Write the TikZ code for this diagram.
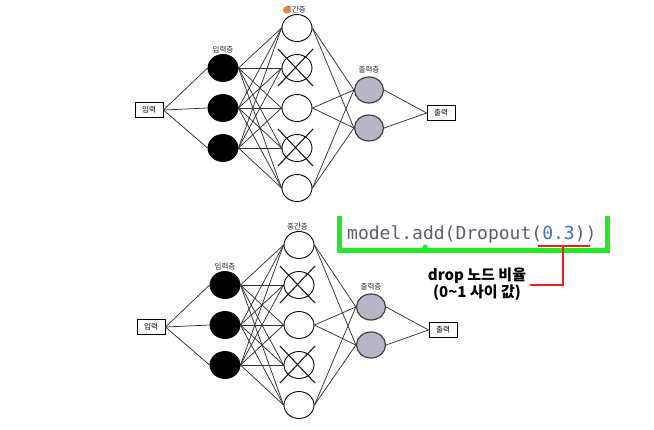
\documentclass[tikz,border=0pt]{standalone}
\usepackage{fontspec}
\setmainfont{Liberation Sans}
\newfontfamily\kr{Noto Sans CJK KR}
\newfontfamily\mono{DejaVu Sans Mono}
\usetikzlibrary{shapes.geometric}
\definecolor{outgray}{RGB}{182,182,198}
\definecolor{codegray}{RGB}{100,90,112}
\definecolor{codeblue}{RGB}{60,110,200}
\definecolor{greenline}{RGB}{35,235,35}
\definecolor{dotorange}{RGB}{240,130,40}
\definecolor{notered}{RGB}{240,30,30}
\tikzset{
  neuron/.style={ellipse, draw=black, line width=0.9pt, minimum width=30pt, minimum height=27pt, inner sep=0pt},
  innode/.style={neuron, fill=black},
  midnode/.style={neuron, fill=white},
  outnode/.style={neuron, fill=outgray, draw=black!75, line width=1.2pt, minimum width=29pt, minimum height=26pt},
  iobox/.style={draw, line width=0.9pt, minimum width=28pt, minimum height=15pt, inner sep=0pt, font=\kr\fontsize{7.5}{8}\selectfont},
  edge/.style={draw=black!80, line width=0.75pt},
  layerlabel/.style={font=\kr\fontsize{7.5}{8}\selectfont, inner sep=0pt, text=black!85},
  crossline/.style={line width=1.1pt, draw=black!90},
  redline/.style={draw=notered, line width=1.5pt},
  greenframe/.style={draw=greenline, line width=5pt},
}
\newcommand\drawnet[3]{%
\begin{scope}[shift={(#2,#3)}]
 \node[iobox] (#1ib) at (149,110) {입력};
 \foreach \i/\y in {1/68,2/108,3/148} \node[innode] (#1i\i) at (223,\y) {};
 \foreach \i/\y in {1/28,2/68,3/108,4/148,5/188} \node[midnode] (#1m\i) at (297,\y) {};
 \foreach \i/\y in {1/90,2/128} \node[outnode] (#1o\i) at (369,\y) {};
 \node[iobox] (#1ob) at (441,113) {출력};
 \node[layerlabel] (#1li) at (223,50) {입력층};
 \node[layerlabel] (#1lm) at (295.5,10) {중간층};
 \node[layerlabel] (#1lo) at (369,70) {출력층};
 \foreach \i in {1,2,3} \draw[edge] (#1ib.east) -- (#1i\i.west);
 \foreach \i in {1,2,3} \foreach \j in {1,...,5} \draw[edge] (#1i\i.east) -- (#1m\j.west);
 \foreach \j in {1,3,5} \foreach \k in {1,2} \draw[edge] (#1m\j.east) -- (#1o\k.west);
 \foreach \k in {1,2} \draw[edge] (#1o\k.east) -- (#1ob.west);
 \foreach \j in {2,4} {
   \draw[crossline] ([shift={(-19,-19)}]#1m\j.center) -- ([shift={(16,18)}]#1m\j.center);
   \draw[crossline] ([shift={(16,-19)}]#1m\j.center) -- ([shift={(-19,18)}]#1m\j.center);
 }
\end{scope}}
\begin{document}
\begin{tikzpicture}[x=1pt,y=-1pt]
\useasboundingbox (0,0) rectangle (654,429);
\fill[white] (0,0) rectangle (654,429);
\drawnet{t}{0}{0}
\node[circle, fill=dotorange, minimum size=7pt, inner sep=0pt] (dot) at (286.5,10) {};
\drawnet{b}{2}{217}
% code box
\coordinate (g1) at (339.5,216);
\coordinate (g2) at (339.5,250);
\coordinate (g3) at (607.5,250);
\coordinate (g4) at (607.5,216);
\draw[greenframe] (g1) -- (g2) -- (g3) -- (g4);
\node[circle, fill=greenline, minimum size=5pt, inner sep=0pt] (gtick) at (425,247) {};
\node[font=\mono\fontsize{18}{18}\selectfont, anchor=base west, inner sep=0pt, text=codegray] (code) at (347,239) {model.add(Dropout(\textcolor{codeblue}{0.3}))};
% annotation
\coordinate (u1) at (538,246);
\coordinate (u2) at (590,246);
\coordinate (r1) at (563,246);
\coordinate (r2) at (563,285);
\coordinate (r3) at (530,285);
\draw[redline] (u1) -- (u2);
\draw[redline] (r1) -- (r2) -- (r3);
\node[font=\kr\bfseries\fontsize{15}{17}\selectfont, align=center, inner sep=0pt] (note) at (477,284) {drop 노드 비율\\(0\textasciitilde 1 사이 값)};
\end{tikzpicture}
\end{document}
